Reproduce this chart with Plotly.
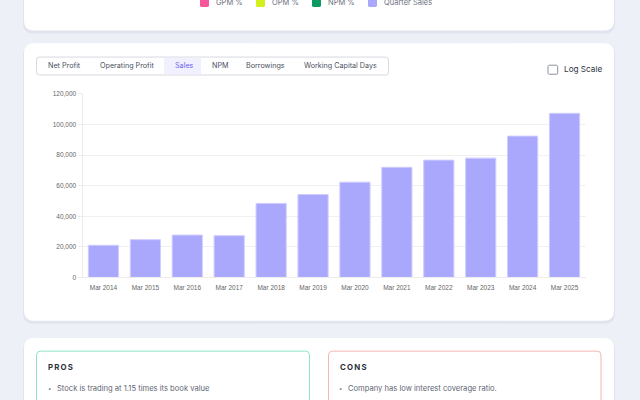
import plotly.graph_objects as go

# yearly sales (Rs. Cr.)
years = ["Mar 2014", "Mar 2015", "Mar 2016", "Mar 2017", "Mar 2018", "Mar 2019",
         "Mar 2020", "Mar 2021", "Mar 2022", "Mar 2023", "Mar 2024", "Mar 2025"]
sales = [21000, 24700, 27700, 27300, 48400, 54200,
         62300, 72000, 76700, 78000, 92400, 107300]

y_ticks = [0, 20000, 40000, 60000, 80000, 100000, 120000]

tabs = ["Net Profit", "Operating Profit", "Sales", "NPM", "Borrowings", "Working Capital Days"]
legend_items = ["GPM %", "OPM %", "NPM %", "Quarter Sales"]
legend_colors = ["#f5569b", "#d4ef1a", "#0a9b63", "#aaa8fd"]
pros = ["Stock is trading at 1.15 times its book value"]
cons = ["Company has low interest coverage ratio."]

W, H = 640, 400
BG = "#eef0f8"
FONT = "Inter"


def px(x):
    return x / W


def py(y):
    return 1 - y / H


def rrect(x0, y0, x1, y1, r, fill, line=None, lw=1):
    # rounded rectangle in page pixels -> paper path
    a, b, c, d = px(x0), py(y0), px(x1), py(y1)
    rx, ry = r / W, r / H
    path = (f"M {a+rx},{b} L {c-rx},{b} Q {c},{b} {c},{b-ry} "
            f"L {c},{d+ry} Q {c},{d} {c-rx},{d} L {a+rx},{d} "
            f"Q {a},{d} {a},{d+ry} L {a},{b-ry} Q {a},{b} {a+rx},{b} Z")
    return dict(type="path", xref="paper", yref="paper", path=path,
                fillcolor=fill, line=dict(color=line or fill, width=lw if line else 0),
                layer="below")


def label(x, y, text, size=7.5, color="#555b66", anchor="left", bold=False):
    if bold:
        text = f"<b>{text}</b>"
    return dict(x=px(x), y=py(y), xref="paper", yref="paper", text=text,
                showarrow=False, xanchor=anchor, yanchor="middle",
                font=dict(family=FONT, size=size, color=color))


fig = go.Figure(go.Bar(
    x=years, y=sales,
    marker=dict(color="#aaa8fd", line=dict(color="#cfcdff", width=1)),
    hoverinfo="x+y",
))

shapes = []
ann = []

# cards (with faint shadow)
for top, bot in [(-40, 27), (40, 322.5), (340, 440)]:
    shapes.append(rrect(23, top + 1, 615, bot + 3, 11, "rgba(120,130,160,0.10)"))
    shapes.append(rrect(24, top, 614, bot, 10, "#ffffff"))

# legend of the card above (cut off by the top edge)
leg_x = [200, 256, 312, 368]
for name, col, lx in zip(legend_items, legend_colors, leg_x):
    shapes.append(rrect(lx, -6, lx + 9, 3, 1.5, col))
    ann.append(label(lx + 14, -1.5, name, size=7.5, color="#6b7280"))

# tab bar
shapes.append(rrect(36.5, 54, 388.5, 72.3, 3, "#ffffff", "#d6d9e0", 1))
shapes.append(dict(type="rect", xref="paper", yref="paper",
                   x0=px(164), x1=px(201), y0=py(71.6), y1=py(54.7),
                   fillcolor="#f1f0fe", line=dict(width=0), layer="below"))
tab_x = [45.5, 98, 172.5, 209.5, 244, 302]
for t, tx in zip(tabs, tab_x):
    ann.append(label(tx, 63, t, size=7.2,
                     color="#6c63f0" if t == "Sales" else "#4b5160"))

# log scale checkbox
shapes.append(rrect(548, 62.3, 557.7, 71.5, 1.5, "#ffffff", "#8d929c", 1))
ann.append(label(562, 66.5, "Log Scale", size=8.2, color="#2f3440"))

# pros / cons boxes
shapes.append(rrect(36.5, 353.3, 309.5, 430, 4, "#ffffff", "#8ee3c3", 1))
shapes.append(rrect(328.5, 353.3, 601, 430, 4, "#ffffff", "#f4b5b5", 1))
ann.append(label(46, 369, "P\u2009R\u2009O\u2009S", size=7.8, color="#2b2f38", bold=True))
ann.append(label(337.5, 369, "C\u2009O\u2009N\u2009S", size=7.8, color="#2b2f38", bold=True))
for i, p in enumerate(pros):
    ann.append(label(45.5, 391 + 14 * i, "\u2022", size=6, color="#6b7280"))
    ann.append(label(54.5, 391 + 14 * i, p, size=7.6, color="#5f6673"))
for i, c in enumerate(cons):
    ann.append(label(336.5, 391 + 14 * i, "\u2022", size=6, color="#6b7280"))
    ann.append(label(346, 391 + 14 * i, c, size=7.6, color="#5f6673"))

fig.update_layout(
    width=W, height=H,
    margin=dict(l=0, r=0, t=0, b=0),
    paper_bgcolor=BG,
    plot_bgcolor="rgba(0,0,0,0)",
    showlegend=False,
    bargap=0.28,
    shapes=shapes,
    annotations=ann,
    font=dict(family="Liberation Sans", size=6.5, color="#666666"),
    xaxis=dict(
        domain=[px(82.5), px(585.5)],
        showgrid=False, showline=True, linecolor="#ececec", linewidth=1,
        ticks="outside", ticklen=4, tickcolor="#ffffff",
        tickfont=dict(family="Liberation Sans", size=6.5, color="#666666"),
        fixedrange=True,
    ),
    yaxis=dict(
        domain=[py(278.3), py(91.5)],
        range=[0, 120000], tickvals=y_ticks, tickformat=",",
        showgrid=True, gridcolor="#f0f0f0", gridwidth=1,
        showline=True, linecolor="#ececec", linewidth=1,
        zeroline=False,
        ticks="outside", ticklen=4, tickcolor="#ececec",
        tickfont=dict(family="Liberation Sans", size=6.5, color="#666666"),
        fixedrange=True,
    ),
)

# drop the default page margin so the figure sits at the window's corner
fig.write_html("out.html", config={"displayModeBar": False},
               post_script="document.body.style.margin='0';")
